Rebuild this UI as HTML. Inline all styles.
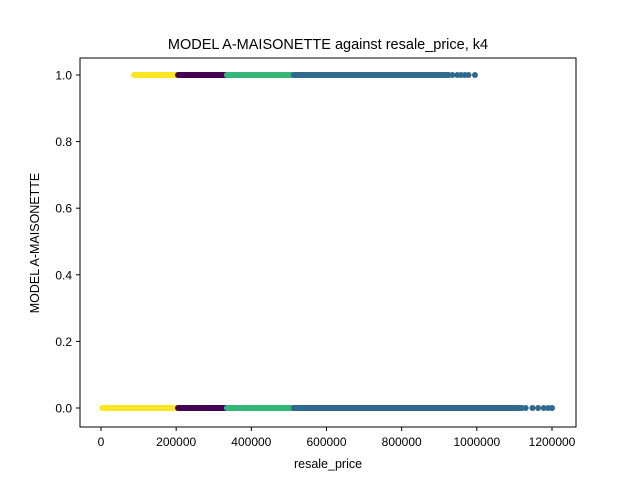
<!DOCTYPE html>
<html><head><meta charset="utf-8"><style>
body{margin:0;background:#fff}
svg{display:block;font-family:"Liberation Sans","DejaVu Sans",sans-serif}
</style></head><body>
<svg id="chart" width="640" height="480">
<rect x="0" y="0" width="640" height="480" fill="#fff"/>
<text x="328" y="49" text-anchor="middle" font-size="14.5">MODEL A-MAISONETTE against resale_price, k4</text>
<g id="marks"></g>
<rect x="80" y="58" width="496" height="369" fill="none" stroke="#000" stroke-width="1"/>
<g id="axes" font-size="12"></g>
<text x="328" y="468" text-anchor="middle" font-size="12.5">resale_price</text>
<text transform="translate(39,243) rotate(-90)" text-anchor="middle" font-size="12.5">MODEL A-MAISONETTE</text>
</svg>
<script>
const clusterColors = ["#fde725","#440154","#35b779","#31688e"];
const segRow = [1,1,1,1,0,0,0,0];
const segCluster = [0,1,2,3,0,1,2,3];
const segStart = [88000,205000,335000,513000,3000,205000,335000,513000];
const segEnd = [205000,335000,513000,925000,205000,335000,513000,1120000];
const pointRow = [1,1,1,1,1,1,0,0,0,0,0,0];
const pointPrice = [935000,948000,958000,968000,978000,995000,1130000,1148000,1163000,1178000,1190000,1200000];
const xTicks = [0,200000,400000,600000,800000,1000000,1200000];
const yTicks = [0,0.2,0.4,0.6,0.8,1.0];

const xs = v => 101 + v * (451 / 1200000);
const ys = v => 408 - v * 333;
const NS = "http://www.w3.org/2000/svg";
const marks = document.getElementById("marks");
const axes = document.getElementById("axes");

for (let i = 0; i < segStart.length; i++) {
  const l = document.createElementNS(NS, "line");
  l.setAttribute("x1", xs(segStart[i])); l.setAttribute("x2", xs(segEnd[i]));
  l.setAttribute("y1", ys(segRow[i])); l.setAttribute("y2", ys(segRow[i]));
  l.setAttribute("stroke", clusterColors[segCluster[i]]);
  l.setAttribute("stroke-width", "6"); l.setAttribute("stroke-linecap", "round");
  
  
  marks.appendChild(l);
}
for (let i = 0; i < pointPrice.length; i++) {
  const c = document.createElementNS(NS, "circle");
  c.setAttribute("cx", xs(pointPrice[i])); c.setAttribute("cy", ys(pointRow[i]));
  c.setAttribute("r", "3"); c.setAttribute("fill", clusterColors[3]);
  
  
  marks.appendChild(c);
}
xTicks.forEach(t => {
  const x = xs(t);
  const l = document.createElementNS(NS, "line");
  l.setAttribute("x1", x); l.setAttribute("x2", x); l.setAttribute("y1", 427); l.setAttribute("y2", 431);
  l.setAttribute("stroke", "#000");
  
  
  axes.appendChild(l);
  const tx = document.createElementNS(NS, "text");
  tx.setAttribute("x", x); tx.setAttribute("y", 446); tx.setAttribute("text-anchor", "middle");
  tx.textContent = String(t);
  
  
  axes.appendChild(tx);
});
yTicks.forEach(t => {
  const y = ys(t);
  const l = document.createElementNS(NS, "line");
  l.setAttribute("x1", 76); l.setAttribute("x2", 80); l.setAttribute("y1", y); l.setAttribute("y2", y);
  l.setAttribute("stroke", "#000");
  
  
  axes.appendChild(l);
  const tx = document.createElementNS(NS, "text");
  tx.setAttribute("x", 72); tx.setAttribute("y", y + 4.5); tx.setAttribute("text-anchor", "end");
  tx.textContent = t.toFixed(1);
  
  
  axes.appendChild(tx);
});
</script>
</body></html>
